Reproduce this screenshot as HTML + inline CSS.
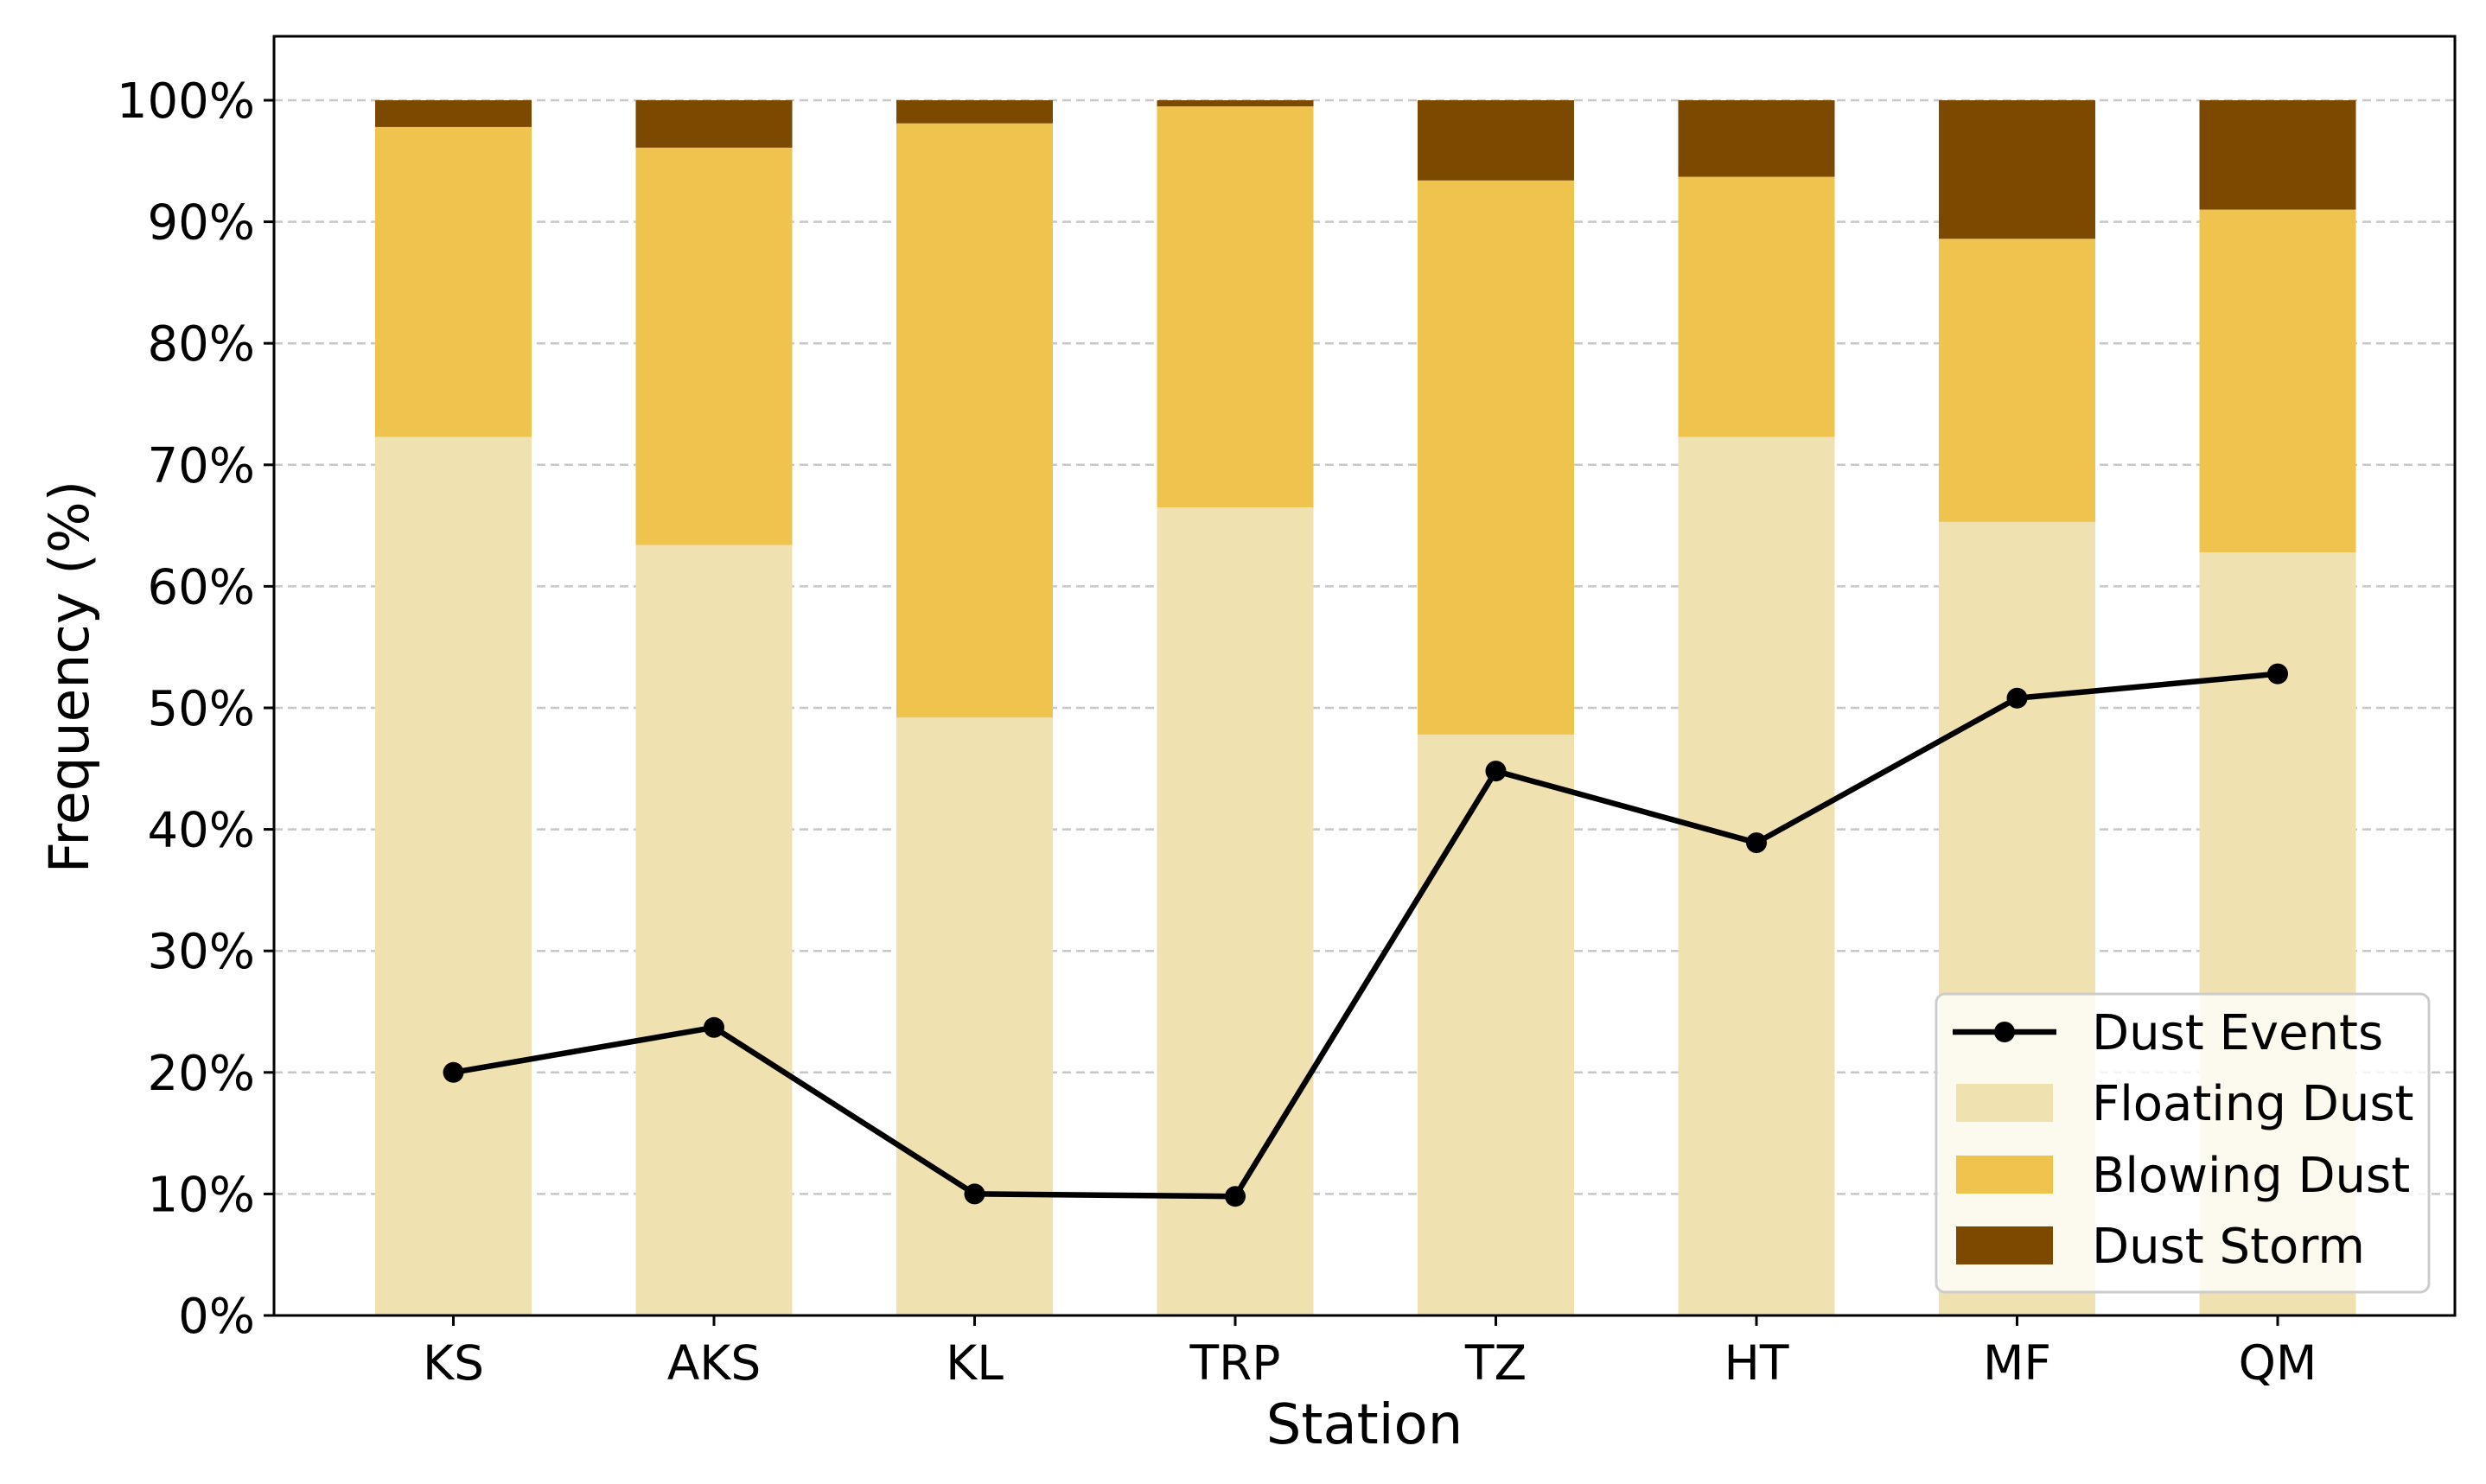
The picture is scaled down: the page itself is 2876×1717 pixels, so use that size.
<!DOCTYPE html>
<html><head><meta charset="utf-8"><style>
html,body{margin:0;padding:0;background:#fff;}
svg{display:block;font-family:"DejaVu Sans","Liberation Sans",sans-serif;}
</style></head><body>
<svg id="chart" width="2876" height="1717" viewBox="0 0 2876 1717" xmlns="http://www.w3.org/2000/svg">
<g id="grid"></g>
<g id="bars"></g>
<g id="line"></g>
<g id="axes"></g>
<g id="legend"></g>
</svg>
<script>
const stations = ["KS","AKS","KL","TRP","TZ","HT","MF","QM"];
const floatingDust = [72.3,63.4,49.2,66.5,47.8,72.3,65.3,62.8];
const blowingDust = [25.5,32.7,48.9,33.0,45.6,21.4,23.3,28.2];
const dustStorm = [2.2,3.9,1.9,0.5,6.6,6.3,11.4,9.0];
const dustEvents = [20.0,23.7,10.0,9.8,44.8,38.9,50.8,52.8];
const yTicks = [0,10,20,30,40,50,60,70,80,90,100];

const NS="http://www.w3.org/2000/svg";
const L=317,R=2840,T=42,B=1522;
const y0=1522,y100=116;
const x0=524.5, step=301.5, bw=181;
function xs(i){return x0+i*step;}
function ys(v){return y0+(y100-y0)*v/100;}
function mk(tag,attrs,parent){const e=document.createElementNS(NS,tag);for(const k in attrs)e.setAttribute(k,attrs[k]);parent.appendChild(e);return e;}
const grid=document.getElementById('grid'),bars=document.getElementById('bars'),line=document.getElementById('line'),axes=document.getElementById('axes'),legend=document.getElementById('legend');

yTicks.forEach(v=>{
  const g=mk('line',{x1:L,x2:R,y1:ys(v),y2:ys(v),stroke:'#c8c8c8','stroke-width':2.5,'stroke-dasharray':'10 6'},grid);
  
  
});

const series=[[floatingDust,'#F0E2B0','floating'],[blowingDust,'#EFC44E','blowing'],[dustStorm,'#7B4A00','storm']];
stations.forEach((s,i)=>{
  let base=0;
  series.forEach(([arr,col,nm])=>{
    const v=arr[i];
    const r=mk('rect',{x:xs(i)-bw/2,y:ys(base+v),width:bw,height:ys(base)-ys(base+v),fill:col},bars);
    
    
    base+=v;
  });
});

const pts=dustEvents.map((v,i)=>xs(i)+','+ys(v)).join(' ');
const pl=mk('polyline',{points:pts,fill:'none',stroke:'#000','stroke-width':6.5,'stroke-linejoin':'round'},line);


dustEvents.forEach((v,i)=>{
  const c=mk('circle',{cx:xs(i),cy:ys(v),r:12,fill:'#000'},line);
  
  
});

const frame=mk('rect',{x:L,y:T,width:R-L,height:B-T,fill:'none',stroke:'#000','stroke-width':3},axes);


yTicks.forEach(v=>{
  mk('line',{x1:L-12,x2:L,y1:ys(v),y2:ys(v),stroke:'#000','stroke-width':3},axes);
  const t=mk('text',{x:L-22,y:ys(v)+20,'text-anchor':'end','font-size':56,fill:'#000'},axes);
  t.textContent=v+'%';
  
  
});
stations.forEach((s,i)=>{
  mk('line',{x1:xs(i),x2:xs(i),y1:B,y2:B+12,stroke:'#000','stroke-width':3},axes);
  const t=mk('text',{x:xs(i),y:B+74,'text-anchor':'middle','font-size':55,fill:'#000'},axes);
  t.textContent=s;
  
  
});
const xt=mk('text',{x:(L+R)/2,y:1670,'text-anchor':'middle','font-size':64,fill:'#000'},axes);
xt.textContent='Station';


const yt=mk('text',{x:0,y:0,'text-anchor':'middle','font-size':63,fill:'#000',transform:'translate(102,783) rotate(-90)'},axes);
yt.textContent='Frequency (%)';



const lb=mk('rect',{x:2240,y:1150,width:570,height:345,rx:10,fill:'rgba(255,255,255,0.8)',stroke:'#cccccc','stroke-width':3},legend);


const entries=[['Dust Events',null,1194],['Floating Dust','#F0E2B0',1276],['Blowing Dust','#EFC44E',1359],['Dust Storm','#7B4A00',1441]];
entries.forEach(([lab,col,y])=>{
  const g=mk('g',{},legend);
  
  
  if(col){mk('rect',{x:2263,y:y-22,width:112,height:44,fill:col},g);}
  else{mk('line',{x1:2259,x2:2379,y1:y,y2:y,stroke:'#000','stroke-width':6.5},g);mk('circle',{cx:2319,cy:y,r:12,fill:'#000'},g);}
  const t=mk('text',{x:2420,y:y+20,'font-size':56,fill:'#000'},g);
  t.textContent=lab;
});
</script>
</body></html>
